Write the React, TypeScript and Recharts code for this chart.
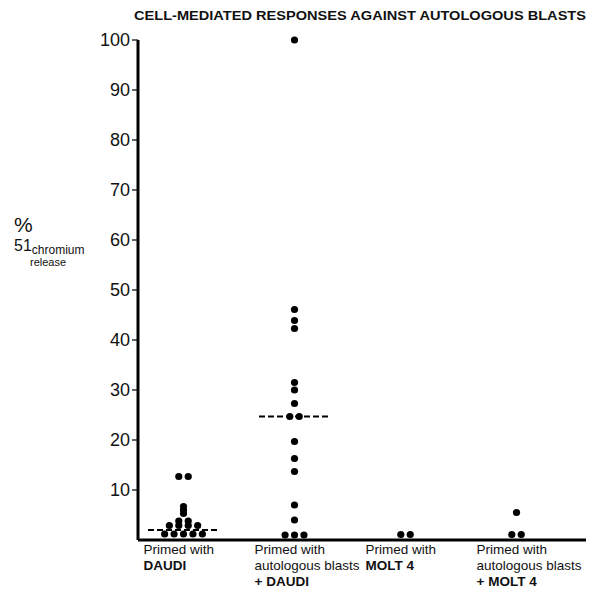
import React from 'react'
import { ScatterChart, Scatter, XAxis, YAxis, ReferenceLine } from 'recharts'

const FONT = '"Liberation Sans", Arial, Helvetica, sans-serif'

// groups, left to right
const groups = ['DAUDI', 'autologous blasts + DAUDI', 'MOLT 4', 'autologous blasts + MOLT 4']
const labelLines = [
  ['Primed with', 'DAUDI'],
  ['Primed with', 'autologous blasts', '+ DAUDI'],
  ['Primed with', 'MOLT 4'],
  ['Primed with', 'autologous blasts', '+ MOLT 4'],
]

// % 51Cr release per effector culture
const daudi = [12.7, 12.7, 6.7, 6, 5.3, 3.8, 3.8, 2.9, 2.9, 2.9, 2.9, 1.2, 1.2, 1.2, 1.2, 1.2]
const autoDaudi = [100, 46.1, 43.9, 42.3, 31.5, 30, 27.3, 24.7, 24.7, 19.7, 16.3, 13.7, 7, 4, 1, 1, 1]
const molt4 = [1.1, 1.1]
const autoMolt4 = [5.5, 1.1, 1.1]
const medians = [2.0, 24.7, null, null]

const yTicks = [10, 20, 30, 40, 50, 60, 70, 80, 90, 100]

const JITTER = 0.085
const HALF_LINE = 0.32

// spread identical values side by side
function buildPoints(values: number[], g: number) {
  const counts: Record<string, number> = {}
  values.forEach((v) => { counts[v] = (counts[v] || 0) + 1 })
  const seen: Record<string, number> = {}
  return values.map((v) => {
    const n = counts[v]
    const k = seen[v] || 0
    seen[v] = k + 1
    return { x: g + (k - (n - 1) / 2) * JITTER, y: v }
  })
}

const points = [daudi, autoDaudi, molt4, autoMolt4].flatMap((vals, g) => buildPoints(vals, g))

const Dot = (props: any) => <circle cx={props.cx} cy={props.cy} r={3.6} fill="#000" />

const XTick = (props: any) => {
  const { x, y, payload } = props
  const lines = labelLines[payload.value] || []
  return (
    <g>
      {lines.map((t, i) => (
        <text
          key={i}
          x={x - 40}
          y={y + 6 + i * 16}
          textAnchor="start"
          fontFamily={FONT}
          fontSize={13.5}
          fontWeight={i === lines.length - 1 && i > 0 ? 700 : 400}
          fill="#111"
        >
          {t}
        </text>
      ))}
    </g>
  )
}

export default function App() {
  return (
    <div style={{ position: 'relative', width: 594, height: 595, margin: '-8px 0 0 -8px', background: '#fff' }}>
      <ScatterChart width={594} height={595} margin={{ top: 40, right: 2, bottom: 0, left: 0 }}>
        <XAxis
          type="number"
          dataKey="x"
          domain={[-0.41, 3.68]}
          ticks={[0, 1, 2, 3]}
          allowDataOverflow
          tickLine={false}
          axisLine={{ stroke: '#000', strokeWidth: 3 }}
          tick={<XTick />}
          height={55}
        />
        <YAxis
          type="number"
          dataKey="y"
          domain={[0, 100]}
          ticks={yTicks}
          width={138}
          tickSize={6}
          tickMargin={2}
          tickLine={{ stroke: '#000', strokeWidth: 1.2 }}
          axisLine={{ stroke: '#000', strokeWidth: 3 }}
          tick={{ fill: '#111', fontSize: 18, fontFamily: FONT }}
        />
        {medians.map((m, g) =>
          m == null ? null : (
            <ReferenceLine
              key={groups[g]}
              segment={[{ x: g - HALF_LINE, y: m }, { x: g + HALF_LINE, y: m }]}
              stroke="#000"
              strokeWidth={2}
              strokeDasharray="6 3"
            />
          )
        )}
        <Scatter data={points} shape={<Dot />} isAnimationActive={false} />
      </ScatterChart>
      <svg width={594} height={595} style={{ position: 'absolute', left: 0, top: 0, pointerEvents: 'none' }}>
        <text x={134} y={20} textLength={452} lengthAdjust="spacingAndGlyphs" fontFamily={FONT} fontWeight={700} fontSize={13} fill="#111">
          CELL-MEDIATED RESPONSES AGAINST AUTOLOGOUS BLASTS
        </text>
        <text x={14} y={232} fontFamily={FONT} fontSize={21} fill="#111">%</text>
        <text x={14} y={251} fontFamily={FONT} fontSize={16} fill="#111">
          51<tspan fontSize={12} dy={3}>chromium</tspan>
        </text>
        <text x={30} y={266} fontFamily={FONT} fontSize={11} fill="#111">release</text>
      </svg>
    </div>
  )
}
